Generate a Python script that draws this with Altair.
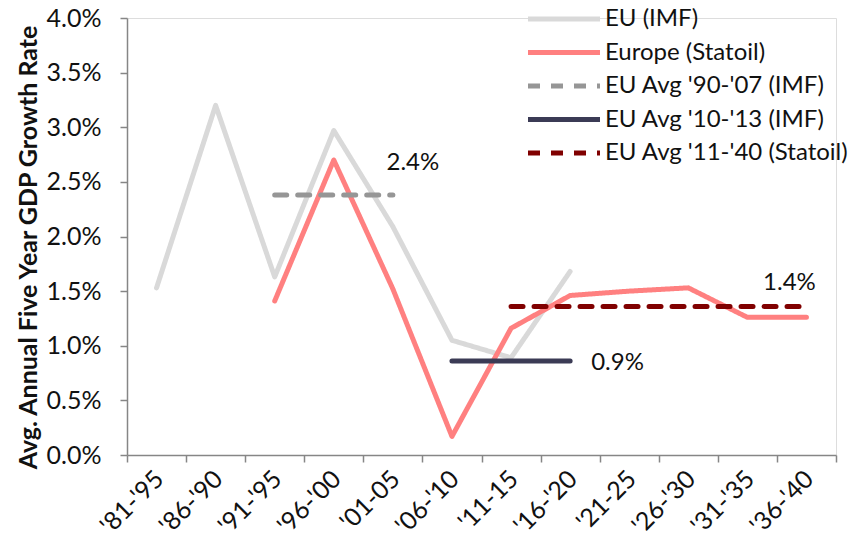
import altair as alt
import pandas as pd

periods = ["'81-'95", "'86-'90", "'91-'95", "'96-'00", "'01-05", "'06-'10",
           "'11-15", "'16-'20", "'21-25", "'26-'30", "'31-'35", "'36-'40"]

eu_imf = [1.53, 3.20, 1.63, 2.97, 2.09, 1.05, 0.89, 1.68, None, None, None, None]
europe_statoil = [None, None, 1.41, 2.70, 1.52, 0.17, 1.16, 1.46, 1.50, 1.53, 1.26, 1.26]

avg_90_07 = 2.38   # '91-'95 .. '01-05
avg_10_13 = 0.86   # '06-'10 .. '16-'20
avg_11_40 = 1.36   # '11-15 .. '36-'40
avg_90_07_span = ["'91-'95", "'96-'00", "'01-05"]
avg_10_13_span = ["'06-'10", "'11-15", "'16-'20"]
avg_11_40_span = ["'11-15", "'16-'20", "'21-25", "'26-'30", "'31-'35", "'36-'40"]

series_names = ["EU (IMF)", "Europe (Statoil)", "EU Avg '90-'07 (IMF)",
                "EU Avg '10-'13 (IMF)", "EU Avg '11-'40 (Statoil)"]
series_colors = ["#d9d9d9", "#ff8080", "#969696", "#3b3b55", "#800000"]
series_dash = [[1, 0], [1, 0], [12, 11], [1, 0], [12, 11]]

ann_text = ["2.4%", "0.9%", "1.4%"]
ann_period = ["'01-05", "'16-'20", "'36-'40"]
ann_value = [avg_90_07, avg_10_13, avg_11_40]

rows = []
for p, v in zip(periods, eu_imf):
    if v is not None:
        rows.append({"series": series_names[0], "period": p, "value": v / 100})
for p, v in zip(periods, europe_statoil):
    if v is not None:
        rows.append({"series": series_names[1], "period": p, "value": v / 100})
for p in avg_90_07_span:
    rows.append({"series": series_names[2], "period": p, "value": avg_90_07 / 100})
for p in avg_10_13_span:
    rows.append({"series": series_names[3], "period": p, "value": avg_10_13 / 100})
for p in avg_11_40_span:
    rows.append({"series": series_names[4], "period": p, "value": avg_11_40 / 100})
df = pd.DataFrame(rows)
df["order"] = df["series"].map({s: i for i, s in enumerate(series_names)})

ann = pd.DataFrame({"text": ann_text, "period": ann_period,
                    "value": [v / 100 for v in ann_value]})

FONT = "Lato"
FS = 25

x_enc = alt.X("period:N", sort=periods, bandPosition=0.5,
              scale=alt.Scale(type="band", domain=periods, paddingInner=0, paddingOuter=0),
              axis=alt.Axis(title=None, labelAngle=-45, labelAlign="right", labelBaseline="top",
                            tickBand="extent", labelPadding=4, labelOffset=-6, labelFontSize=FS,
                            labelFont=FONT, labelColor="#111111",
                            domainColor="#868686", tickColor="#868686",
                            domainWidth=1.5, tickWidth=1.5, tickSize=7))
y_scale = alt.Scale(domain=[0, 0.04], nice=False)
y_axis = alt.Axis(title="Avg. Annual Five Year GDP Growth Rate", format=".1%",
                  values=[0, 0.005, 0.01, 0.015, 0.02, 0.025, 0.03, 0.035, 0.04],
                  labelFontSize=FS, labelFont=FONT, labelColor="#111111", labelPadding=19,
                  titleFont=FONT, titleFontSize=25, titleFontWeight="bold", titleColor="#111111",
                  titleX=-99, titleY=229, titleAlign="center", titleBaseline="middle",
                  titleAngle=-90,
                  domainColor="#868686", tickColor="#868686", domainWidth=1.5,
                  tickWidth=1.5, tickSize=7, grid=False)

lines = alt.Chart(df).mark_line(strokeWidth=5, strokeCap="round", strokeJoin="round").encode(
    x=x_enc,
    y=alt.Y("value:Q", scale=y_scale, axis=y_axis),
    color=alt.Color("series:N", scale=alt.Scale(domain=series_names, range=series_colors),
                    legend=alt.Legend(title=None, orient="none", legendX=425, legendY=-11,
                                      symbolType="M-4,0H4", symbolSize=324,
                                      symbolStrokeWidth=5, symbolFillColor="transparent",
                                      labelFontSize=24, labelFont=FONT,
                                      labelColor="#111111", rowPadding=9.5, labelOffset=29,
                                      labelLimit=400, padding=0)),
    strokeDash=alt.StrokeDash("series:N",
                              scale=alt.Scale(domain=series_names, range=series_dash),
                              legend=alt.Legend(title=None)),
    order="order:Q",
    detail="series:N",
)

def label(i, align, dx, dy):
    return alt.Chart(ann.iloc[[i]]).mark_text(
        align=align, baseline="middle", dx=dx, dy=dy, fontSize=24, font=FONT, color="#111111"
    ).encode(
        x=alt.X("period:N", sort=periods, bandPosition=0.5),
        y=alt.Y("value:Q", scale=y_scale),
        text="text:N",
    )

chart = alt.layer(
    lines,
    label(0, "center", 20, -32),
    label(1, "left", 21, 2),
    label(2, "center", -17, -23),
).properties(
    width=709, height=437,
    autosize=alt.AutoSizeParams(type="none"),
    padding={"left": 119, "top": 10, "right": 24, "bottom": 76},
).configure_view(stroke=None).configure(background="white")

chart.save("out.html", embed_options={"renderer": "svg", "actions": False})
